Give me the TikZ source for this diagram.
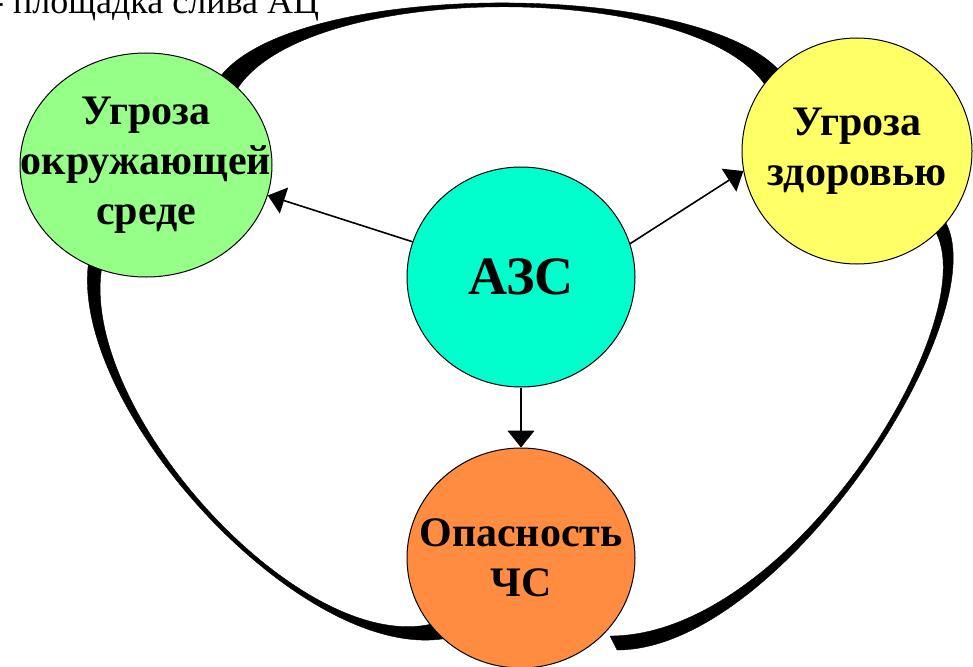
\documentclass[tikz,border=0pt]{standalone}
\usepackage{fontspec}
\setmainfont{Liberation Serif}
\usetikzlibrary{arrows.meta,shapes.geometric}
\definecolor{envgreen}{RGB}{150,255,136}
\definecolor{healthyellow}{RGB}{255,255,102}
\definecolor{stationcyan}{RGB}{0,255,204}
\definecolor{dangerorange}{RGB}{255,140,64}

\begin{document}
\begin{tikzpicture}[
    x=1pt, y=-1pt,
    blob/.style={ellipse, draw, line width=1pt, align=center, inner sep=-40pt, font=\bfseries\fontsize{42}{50}\selectfont},
    arrow/.style={-{Triangle[length=17pt,width=27pt]}, line width=1.6pt},
    band/.style={fill=black, draw=black, line width=0.4pt}
  ]
    \useasboundingbox (0,0) rectangle (973,666);
    \node[anchor=base west, inner sep=0pt, font=\fontsize{36}{40}\selectfont] (caption) at (-8,14) {- площадка слива АЦ};
    \node[blob, fill=envgreen, minimum width=252pt, minimum height=224pt] (environment) at (146,165) {Угроза\\окружающей\\среде};
    \node[blob, fill=healthyellow, minimum width=230pt, minimum height=226pt] (health) at (857,151) {Угроза\\здоровью};
    \node[blob, fill=stationcyan, minimum width=228pt, minimum height=220pt, font=\bfseries\fontsize{54}{60}\selectfont] (station) at (521,277) {АЗС};
    \node[blob, fill=dangerorange, minimum width=228pt, minimum height=220pt] (emergency) at (521,558) {Опасность\\ЧС};
    \coordinate (tipouter) at (617,650);
    \coordinate (tipinner) at (610,636);
    \draw[arrow] (station.162) -- (environment.-14);
    \draw[arrow] (station.17) -- (health.190);
    \draw[arrow] (station) -- (emergency);
    \filldraw[band] (environment.50) .. controls (300,-20) and (690,-20) .. (health.134) -- (health.144) .. controls (690,-19.5) and (310,-19.5) .. (environment.40) -- cycle;
    \filldraw[band] (environment.240) .. controls (72,410) and (300,660) .. (emergency.226) -- (emergency.216) .. controls (298,652) and (82,413) .. (environment.247) -- cycle;
    \filldraw[band] (health.-39) .. controls (995,320) and (780,650) .. (tipouter) -- (tipinner) .. controls (789,636) and (982,326) .. (health.-46) -- cycle;
\end{tikzpicture}
\end{document}
